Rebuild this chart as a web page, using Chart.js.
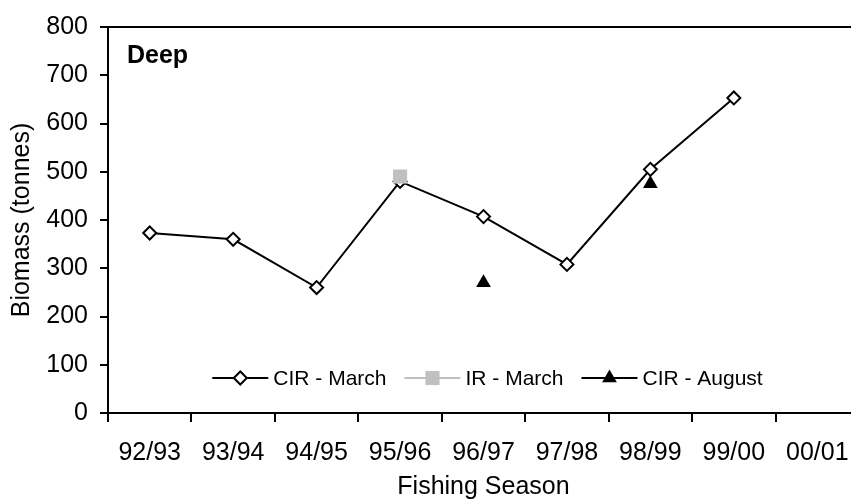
<!DOCTYPE html>
<html>
<head>
<meta charset="utf-8">
<script src="https://cdn.jsdelivr.net/npm/chart.js@4.4.1/dist/chart.umd.min.js"></script>
<style>
  html, body { margin: 0; padding: 0; background: #ffffff; overflow: hidden; }
  #wrap { width: 870px; height: 500px; }
</style>
</head>
<body>
<div id="wrap"><canvas id="biomassChart" width="870" height="500"></canvas></div>
<script>
const seasons = ['92/93', '93/94', '94/95', '95/96', '96/97', '97/98', '98/99', '99/00', '00/01'];
const cirMarch = [373, 360, 260, 480, 407, 308, 505, 653, null];
const irMarch = [null, null, null, 490, null, null, null, null, null];
const cirAugust = [null, null, null, null, 270, null, 475, null, null];

const FONT = "'Liberation Sans', Arial, sans-serif";

// plot box top/right border + "Deep" label
const frame = {
  id: 'frame',
  afterDraw(chart) {
    const { ctx, chartArea: a } = chart;
    ctx.save();
    ctx.strokeStyle = '#000';
    ctx.lineWidth = 2;
    ctx.beginPath();
    ctx.moveTo(a.left, a.top);
    ctx.lineTo(a.right, a.top);
    ctx.lineTo(a.right, a.bottom);
    ctx.stroke();

    ctx.fillStyle = '#000';
    ctx.font = 'bold 25px ' + FONT;
    ctx.textBaseline = 'alphabetic';
    ctx.fillText('Deep', 127, 63);
    ctx.restore();
  }
};

function drawMarker(ctx, ds, x, y) {
  ctx.save();
  ctx.fillStyle = ds.pointBackgroundColor;
  ctx.strokeStyle = ds.pointBorderColor;
  ctx.lineWidth = ds.pointBorderWidth;
  Chart.helpers.drawPoint(ctx, {
    pointStyle: ds.pointStyle,
    radius: ds.pointRadius,
    borderWidth: ds.pointBorderWidth,
    rotation: 0
  }, x, y);
  ctx.restore();
}

// legend drawn inside the plot area, near the bottom
const innerLegend = {
  id: 'innerLegend',
  afterDraw(chart) {
    const { ctx, chartArea: a } = chart;
    const lineLen = 56, gapText = 5, gapItem = 18;
    const y = 378;
    ctx.save();
    ctx.font = '21px ' + FONT;
    const items = chart.data.datasets.map(ds => ({ ds, w: ctx.measureText(ds.label).width }));
    const total = items.reduce((s, it) => s + lineLen + gapText + it.w, 0) + gapItem * (items.length - 1);
    let x = (a.left + a.right) / 2 + 4 - total / 2;
    items.forEach(({ ds, w }) => {
      ctx.strokeStyle = ds.borderColor;
      ctx.lineWidth = 2;
      ctx.beginPath();
      ctx.moveTo(x, y);
      ctx.lineTo(x + lineLen, y);
      ctx.stroke();
      drawMarker(ctx, ds, x + lineLen / 2, y);
      x += lineLen + gapText;
      ctx.fillStyle = '#000';
      ctx.textBaseline = 'middle';
      ctx.fillText(ds.label, x, y + 1);
      x += w + gapItem;
    });
    ctx.restore();
  }
};

window.addEventListener('DOMContentLoaded', () => {
  const ctx = document.getElementById('biomassChart').getContext('2d');

  Chart.defaults.font.family = FONT;
  Chart.defaults.color = '#000';

  const data = {
    labels: seasons,
    datasets: [
      {
        label: 'CIR - March',
        data: cirMarch,
        borderColor: '#000000',
        borderWidth: 2,
        pointStyle: 'rectRot',
        pointRadius: 6.5,
        pointHoverRadius: 6.5,
        pointBackgroundColor: '#ffffff',
        pointBorderColor: '#000000',
        pointBorderWidth: 2,
        order: 1
      },
      {
        label: 'IR - March',
        data: irMarch,
        borderColor: '#c0c0c0',
        borderWidth: 2,
        pointStyle: 'rect',
        pointRadius: 10,
        pointHoverRadius: 10,
        pointBackgroundColor: '#c0c0c0',
        pointBorderColor: '#c0c0c0',
        pointBorderWidth: 0,
        order: 0
      },
      {
        label: 'CIR - August',
        data: cirAugust,
        borderColor: '#000000',
        borderWidth: 2,
        pointStyle: 'triangle',
        pointRadius: 8.5,
        pointHoverRadius: 8.5,
        pointBackgroundColor: '#000000',
        pointBorderColor: '#000000',
        pointBorderWidth: 0,
        order: 2
      }
    ]
  };

  const config = {
    type: 'line',
    data: data,
    options: {
      responsive: false,
      animation: false,
      spanGaps: false,
      layout: { padding: { top: 25, right: 11, left: 0, bottom: 0 } },
      elements: { line: { tension: 0 } },
      scales: {
        x: {
          offset: true,
          grid: {
            offset: true,
            drawOnChartArea: false,
            drawTicks: true,
            tickLength: 9,
            color: '#000',
            lineWidth: 2
          },
          border: { display: true, color: '#000', width: 2 },
          ticks: {
            padding: 16,
            maxRotation: 0,
            autoSkip: false,
            font: { size: 25, lineHeight: 1.2 }
          },
          title: {
            display: true,
            text: 'Fishing Season',
            font: { size: 25, lineHeight: 1 },
            padding: { top: 0, bottom: 0 }
          },
          afterFit(scale) { scale.height = 87; }
        },
        y: {
          min: 0,
          max: 800,
          ticks: {
            stepSize: 100,
            padding: 12,
            font: { size: 25 }
          },
          grid: {
            drawOnChartArea: false,
            drawTicks: true,
            tickLength: 8,
            color: '#000',
            lineWidth: 2
          },
          border: { display: true, color: '#000', width: 2 },
          title: {
            display: true,
            text: 'Biomass (tonnes)',
            font: { size: 25, lineHeight: 1 },
            padding: { top: 10, bottom: 0 }
          },
          afterFit(scale) { scale.width = 108; }
        }
      },
      plugins: {
        legend: { display: false },
        tooltip: { enabled: false }
      }
    },
    plugins: [frame, innerLegend]
  };

  new Chart(ctx, config);
});
</script>
</body>
</html>
